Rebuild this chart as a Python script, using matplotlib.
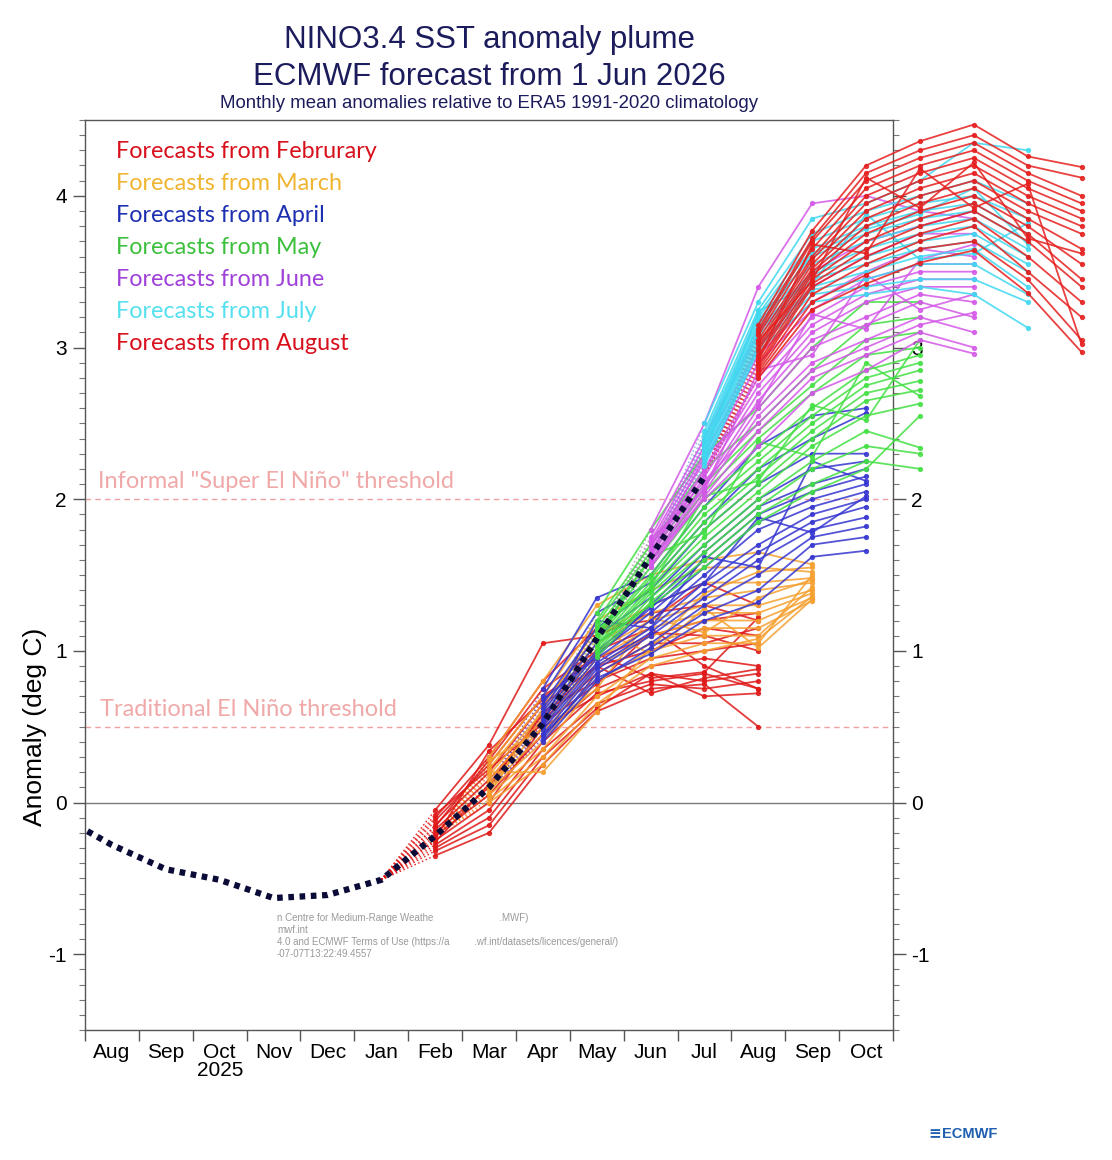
import matplotlib
matplotlib.use('Agg')
import matplotlib.pyplot as plt
from matplotlib.ticker import FixedLocator, MultipleLocator, NullFormatter, FixedFormatter

plt.rcParams['axes.unicode_minus'] = False

# ---------------- data ----------------
month_labels = ['Aug', 'Sep', 'Oct', 'Nov', 'Dec', 'Jan', 'Feb', 'Mar',
                'Apr', 'May', 'Jun', 'Jul', 'Aug', 'Sep', 'Oct']
year_label = '2025'
y_ticks = [-1, 0, 1, 2, 3, 4]

# observed anomalies, Jul 2025 .. Jul 2026 (month index -1 .. 11)
obs_start = -1
obs_values = [-0.08, -0.28, -0.44, -0.51, -0.63, -0.61, -0.51,
              -0.22, 0.10, 0.52, 1.08, 1.62, 2.15]

thresholds = [2.0, 0.5]
threshold_labels = ['Informal "Super El Niño" threshold', 'Traditional El Niño threshold']

# ensemble members per forecast start (month index of first forecast month)
feb_start = 6
feb_members = [
    [-0.05, 0.38, 1.05, 1.10, 1.25, 1.30, 1.20],
    [-0.10, 0.30, 0.80, 1.15, 1.20, 1.45, 1.30],
    [-0.12, 0.25, 0.70, 0.95, 1.10, 1.20, 1.25],
    [-0.15, 0.20, 0.65, 0.90, 1.00, 1.15, 1.10],
    [-0.18, 0.15, 0.55, 0.85, 1.05, 1.05, 1.15],
    [-0.20, 0.10, 0.60, 0.80, 0.95, 1.00, 1.05],
    [-0.22, 0.05, 0.45, 0.75, 0.90, 0.95, 0.90],
    [-0.25, 0.00, 0.50, 0.70, 0.85, 0.80, 0.85],
    [-0.28, -0.05, 0.40, 0.72, 0.80, 0.85, 0.75],
    [-0.30, -0.10, 0.35, 0.65, 0.78, 0.75, 0.80],
    [-0.32, -0.15, 0.30, 0.62, 0.85, 0.70, 0.72],
    [-0.35, -0.20, 0.25, 0.60, 0.75, 0.78, 0.50],
    [-0.26, 0.12, 0.58, 0.90, 0.72, 0.82, 0.88],
    [-0.16, 0.28, 0.75, 1.00, 1.15, 0.90, 0.75],
    [-0.08, 0.22, 0.52, 0.78, 1.12, 1.10, 1.00],
    [-0.24, 0.34, 0.68, 0.98, 0.82, 0.86, 1.22],
]

mar_start = 7
mar_members = [
    [0.30, 0.80, 1.30, 1.50, 1.60, 1.65, 1.57],
    [0.25, 0.70, 1.20, 1.40, 1.55, 1.55, 1.52],
    [0.22, 0.65, 1.10, 1.30, 1.45, 1.45, 1.48],
    [0.18, 0.60, 1.05, 1.25, 1.35, 1.40, 1.45],
    [0.15, 0.55, 1.00, 1.20, 1.30, 1.30, 1.40],
    [0.12, 0.50, 0.95, 1.15, 1.25, 1.25, 1.38],
    [0.10, 0.45, 0.90, 1.10, 1.20, 1.20, 1.35],
    [0.08, 0.40, 0.85, 1.05, 1.15, 1.15, 1.33],
    [0.05, 0.35, 0.80, 1.00, 1.10, 1.10, 1.42],
    [0.02, 0.30, 0.70, 0.95, 1.05, 1.05, 1.50],
    [0.00, 0.25, 0.65, 0.90, 1.00, 1.08, 1.36],
    [0.20, 0.20, 0.60, 1.02, 1.38, 1.52, 1.55],
    [0.28, 0.48, 0.75, 1.22, 1.12, 1.35, 1.47],
    [0.06, 0.62, 1.15, 0.98, 1.28, 1.02, 1.34],
]

apr_start = 8
apr_members = [
    [0.75, 1.35, 1.50, 1.95, 2.35, 2.55, 2.60],
    [0.70, 1.25, 1.45, 1.85, 2.20, 2.40, 2.57],
    [0.65, 1.15, 1.40, 1.80, 2.10, 2.30, 2.30],
    [0.62, 1.10, 1.35, 1.70, 2.00, 2.20, 2.25],
    [0.60, 1.05, 1.30, 1.65, 1.95, 2.10, 2.20],
    [0.58, 1.00, 1.28, 1.60, 1.90, 2.05, 2.15],
    [0.55, 0.98, 1.25, 1.55, 1.85, 2.00, 2.10],
    [0.52, 0.95, 1.20, 1.50, 1.80, 1.95, 2.05],
    [0.50, 0.92, 1.15, 1.45, 1.70, 1.90, 2.00],
    [0.48, 0.90, 1.12, 1.40, 1.65, 1.85, 1.95],
    [0.45, 0.88, 1.10, 1.35, 1.60, 1.80, 1.88],
    [0.42, 0.85, 1.05, 1.30, 1.50, 1.75, 1.82],
    [0.40, 0.80, 1.02, 1.25, 1.40, 1.70, 1.75],
    [0.44, 0.82, 0.98, 1.20, 1.32, 1.62, 1.66],
    [0.68, 0.96, 1.30, 1.45, 1.88, 1.78, 2.02],
    [0.53, 1.20, 1.15, 1.62, 1.55, 2.25, 2.12],
]

may_start = 9
may_members = [
    [1.25, 1.80, 2.30, 2.60, 3.00, 3.30, 3.30],
    [1.20, 1.70, 2.20, 2.50, 2.85, 3.15, 3.20],
    [1.18, 1.65, 2.10, 2.45, 2.75, 3.05, 3.10],
    [1.15, 1.60, 2.05, 2.40, 2.70, 2.95, 3.00],
    [1.12, 1.55, 2.00, 2.30, 2.60, 2.85, 2.95],
    [1.10, 1.50, 1.95, 2.25, 2.55, 2.80, 2.90],
    [1.08, 1.48, 1.90, 2.20, 2.50, 2.75, 2.85],
    [1.06, 1.45, 1.85, 2.15, 2.45, 2.70, 2.78],
    [1.04, 1.42, 1.80, 2.10, 2.40, 2.65, 2.72],
    [1.02, 1.40, 1.75, 2.05, 2.35, 2.55, 2.63],
    [1.00, 1.38, 1.70, 2.00, 2.25, 2.45, 2.34],
    [0.98, 1.35, 1.65, 1.95, 2.20, 2.35, 2.30],
    [0.96, 1.32, 1.60, 1.90, 2.10, 2.25, 2.20],
    [1.05, 1.30, 1.55, 1.85, 2.05, 2.20, 2.55],
    [1.14, 1.42, 2.02, 2.12, 2.62, 2.52, 3.05],
    [1.09, 1.62, 1.78, 2.38, 2.28, 2.90, 2.68],
]

jun_start = 10
jun_members = [
    [1.80, 2.50, 3.40, 3.95, 4.00, 3.90, 3.85],
    [1.75, 2.40, 3.10, 3.50, 3.70, 3.80, 3.90],
    [1.72, 2.35, 3.00, 3.40, 3.60, 3.75, 3.75],
    [1.70, 2.30, 2.95, 3.30, 3.50, 3.65, 3.60],
    [1.68, 2.25, 2.90, 3.25, 3.45, 3.55, 3.55],
    [1.66, 2.20, 2.80, 3.20, 3.40, 3.50, 3.50],
    [1.64, 2.18, 2.75, 3.15, 3.35, 3.45, 3.45],
    [1.62, 2.15, 2.70, 3.10, 3.30, 3.40, 3.40],
    [1.60, 2.10, 2.65, 3.05, 3.20, 3.35, 3.30],
    [1.58, 2.08, 2.60, 3.00, 3.15, 3.30, 3.20],
    [1.56, 2.05, 2.55, 2.90, 3.05, 3.20, 3.10],
    [1.55, 2.02, 2.45, 2.80, 2.95, 3.10, 3.00],
    [1.60, 2.00, 2.35, 2.70, 2.85, 3.05, 2.96],
    [1.70, 2.12, 2.50, 2.85, 3.00, 3.15, 3.23],
    [1.63, 2.28, 2.62, 3.22, 3.12, 3.58, 3.68],
    [1.74, 2.06, 2.85, 2.95, 3.48, 3.25, 3.35],
]

jul_start = 11
jul_members = [
    [2.50, 3.30, 3.85, 3.95, 4.10, 4.35, 4.30],
    [2.45, 3.25, 3.75, 3.90, 4.00, 4.10, 3.95],
    [2.42, 3.22, 3.70, 3.85, 3.95, 4.00, 3.85],
    [2.40, 3.20, 3.65, 3.80, 3.90, 3.95, 3.75],
    [2.38, 3.18, 3.60, 3.75, 3.85, 3.90, 3.70],
    [2.36, 3.15, 3.55, 3.70, 3.80, 3.85, 3.65],
    [2.34, 3.12, 3.50, 3.65, 3.75, 3.80, 3.60],
    [2.32, 3.10, 3.48, 3.60, 3.70, 3.75, 3.55],
    [2.30, 3.08, 3.45, 3.55, 3.65, 3.70, 3.50],
    [2.28, 3.05, 3.40, 3.50, 3.60, 3.65, 3.40],
    [2.26, 3.02, 3.38, 3.45, 3.55, 3.55, 3.35],
    [2.24, 3.00, 3.35, 3.40, 3.45, 3.45, 3.30],
    [2.22, 2.98, 3.30, 3.35, 3.40, 3.35, 3.13],
    [2.35, 3.15, 3.62, 3.78, 3.88, 4.05, 3.68],
    [2.29, 3.24, 3.42, 3.88, 3.58, 3.62, 3.82],
]

aug_start = 12
aug_members = [
    [3.15, 3.77, 4.20, 4.36, 4.47, 4.26, 4.19],
    [3.12, 3.72, 4.15, 4.30, 4.40, 4.20, 4.12],
    [3.10, 3.70, 4.10, 4.25, 4.35, 4.15, 4.00],
    [3.08, 3.65, 4.05, 4.20, 4.30, 4.10, 3.95],
    [3.05, 3.60, 4.00, 4.15, 4.25, 4.05, 3.90],
    [3.02, 3.58, 3.95, 4.10, 4.20, 4.00, 3.85],
    [3.00, 3.55, 3.90, 4.05, 4.15, 3.95, 3.80],
    [2.98, 3.52, 3.85, 4.00, 4.10, 3.90, 3.75],
    [2.95, 3.50, 3.80, 3.95, 4.05, 3.85, 3.65],
    [2.93, 3.48, 3.75, 3.90, 4.00, 3.80, 3.55],
    [2.90, 3.45, 3.70, 3.85, 3.95, 3.75, 3.45],
    [2.88, 3.42, 3.65, 3.80, 3.90, 3.70, 3.40],
    [2.86, 3.40, 3.60, 3.75, 3.85, 3.60, 3.30],
    [2.84, 3.35, 3.55, 3.70, 3.80, 3.50, 3.20],
    [2.82, 3.30, 3.48, 3.65, 3.70, 3.45, 3.05],
    [2.80, 3.25, 3.42, 3.56, 3.64, 3.36, 2.97],
    [3.04, 3.44, 4.12, 3.92, 4.22, 3.72, 3.62],
    [2.91, 3.68, 3.62, 4.18, 3.92, 4.08, 3.02],
]

group_labels = ['Forecasts from Februrary', 'Forecasts from March', 'Forecasts from April',
                'Forecasts from May', 'Forecasts from June', 'Forecasts from July',
                'Forecasts from August']

# ---------------- styling ----------------
groups = [
    (feb_start, feb_members, '#e01818', '#e01818', '#d8101c'),
    (mar_start, mar_members, '#f5a030', '#f08a30', '#f0b530'),
    (apr_start, apr_members, '#3535d0', '#7a55d0', '#1c2fb0'),
    (may_start, may_members, '#44e044', '#b8b860', '#3cc03c'),
    (jun_start, jun_members, '#d458e8', '#b0a0b8', '#a040d8'),
    (jul_start, jul_members, '#40d8f0', '#80b8e0', '#55e0f0'),
    (aug_start, aug_members, '#e61e1e', '#d84040', '#d8101c'),
]

W, H = 1112, 1160
fig = plt.figure(figsize=(W / 100, H / 100), dpi=100)
fig.patch.set_facecolor('white')
ax = fig.add_axes([85 / W, 130 / H, 808 / W, 910 / H])
ax.set_xlim(0, 15)
ax.set_ylim(-1.5, 4.5)

# zero line and thresholds
ax.axhline(0, color='#7a7a7a', lw=1.0, zorder=1)
for th in thresholds:
    ax.axhline(th, color='#f0a0a0', lw=1.0, ls=(0, (4, 3)), zorder=1)

# connectors and members
obs_x = [obs_start + i + 0.5 for i in range(len(obs_values))]
for start, members, col, ccol, _ in groups:
    prev_val = obs_values[start - 1 - obs_start]
    xs = [start + i + 0.5 for i in range(len(members[0]))]
    for m in members:
        ax.plot([start - 0.5, xs[0]], [prev_val, m[0]], ls=':', lw=1.1,
                color=ccol, alpha=0.9, clip_on=False, zorder=2)
    for m in members:
        ax.plot(xs, m, '-', lw=1.3, color=col, alpha=0.85, marker='o',
                ms=2.8, mec=col, mfc=col, clip_on=False, zorder=3)

# observed / mean line
ax.plot(obs_x, obs_values, ls=(0, (0.9, 0.9)), lw=4.5, color='#0b0b38',
        zorder=5, solid_capstyle='butt', dash_capstyle='butt')

# axes ticks
ax.xaxis.set_major_locator(FixedLocator(list(range(16))))
ax.xaxis.set_major_formatter(NullFormatter())
ax.xaxis.set_minor_locator(FixedLocator([i + 0.5 for i in range(15)]))
ax.xaxis.set_minor_formatter(FixedFormatter(month_labels))
ax.tick_params(axis='x', which='major', length=8, width=1, color='#555555', direction='out')
ax.tick_params(axis='x', which='minor', length=0, pad=9, labelsize=15)

ax.yaxis.set_major_locator(FixedLocator(y_ticks))
ax.yaxis.set_minor_locator(MultipleLocator(0.1))
ax.tick_params(axis='y', which='major', length=9, width=1, color='#555555',
               direction='out', labelsize=15, right=True, labelright=True, pad=4)
ax.tick_params(axis='y', which='minor', length=4, width=0.8, color='#777777',
               direction='out', right=True)
for lab in ax.get_xticklabels(minor=True) + ax.get_yticklabels():
    lab.set_fontfamily('Liberation Sans')
for t in ax.yaxis.get_major_ticks():
    if t.get_loc() == 4:
        t.label2.set_visible(False)
for sp in ax.spines.values():
    sp.set_color('#555555')
    sp.set_linewidth(1.0)

# year label
fig.text(220 / W, 1 - 1071 / H, year_label, ha='center', va='center',
         fontsize=15, family='Liberation Sans')

# threshold labels
fig.text(98 / W, 1 - 482 / H, threshold_labels[0], ha='left', va='center',
         fontsize=17, family='Lato', color='#f0a8a8')
fig.text(100 / W, 1 - 709 / H, threshold_labels[1], ha='left', va='center',
         fontsize=17, family='Lato', color='#f0a8a8')

# legend texts
for i, (g, lab) in enumerate(zip(groups, group_labels)):
    fig.text(116 / W, 1 - (152 + 32 * i) / H, lab, ha='left', va='center',
             fontsize=16.8, family='Lato', color=g[4])

# titles
navy = '#1c1c5c'
fig.text(489 / W, 1 - 40 / H, 'NINO3.4 SST anomaly plume', ha='center', va='center',
         fontsize=22.5, family='Liberation Sans', color=navy)
fig.text(489 / W, 1 - 77 / H, 'ECMWF forecast from 1 Jun 2026', ha='center', va='center',
         fontsize=22.5, family='Liberation Sans', color=navy)
fig.text(489 / W, 1 - 104 / H, 'Monthly mean anomalies relative to ERA5 1991-2020 climatology',
         ha='center', va='center', fontsize=13.4, family='Liberation Sans', color=navy)

# y axis label
fig.text(35 / W, 1 - 727 / H, 'Anomaly (deg C)', rotation=90, ha='center', va='center',
         fontsize=19, family='Liberation Sans', color='black')

# watermark
wm = ['n Centre for Medium-Range Weathe                        .MWF)',
      'mwf.int',
      '4.0 and ECMWF Terms of Use (https://a         .wf.int/datasets/licences/general/)',
      '-07-07T13:22:49.4557']
for i, s in enumerate(wm):
    fig.text(277 / W, 1 - (918 + 12 * i) / H, s, ha='left', va='center',
             fontsize=7, family='Liberation Sans', color='#9a9a9a')

# logo
fig.text(928 / W, 1 - 1134 / H, '\u2261', ha='left', va='center', fontsize=11,
         color='#1f5fb0', weight='bold')
fig.text(942 / W, 1 - 1134 / H, 'ECMWF', ha='left', va='center', fontsize=10.5,
         family='Liberation Sans', color='#1f5fb0', weight='bold')

fig.savefig('out.png', dpi=100, facecolor='white')
